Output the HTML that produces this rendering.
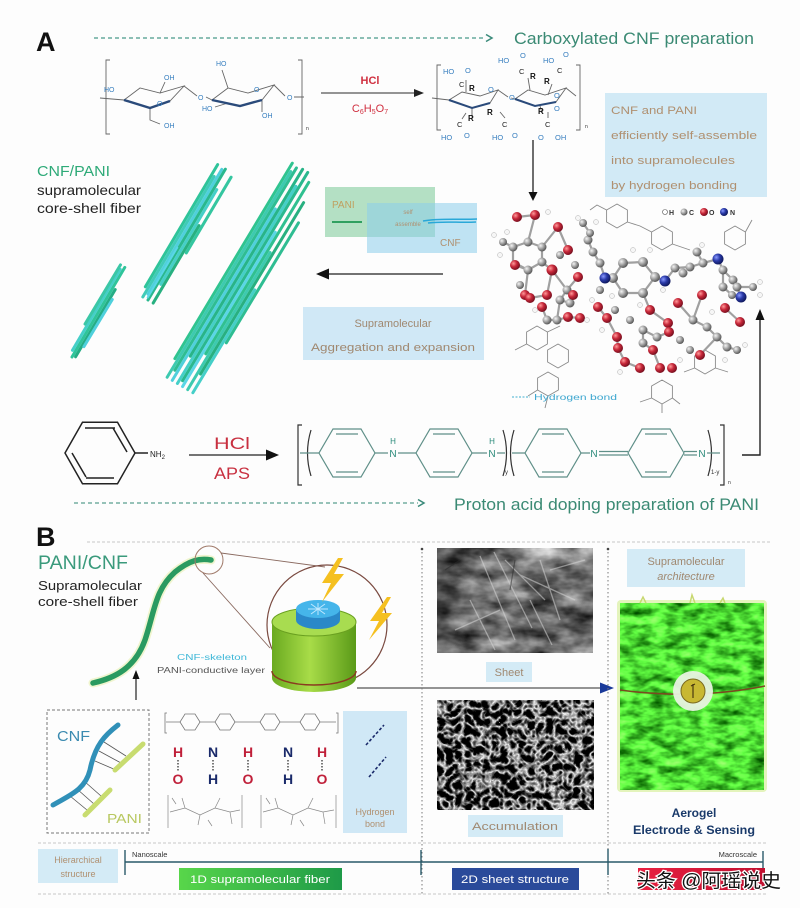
<!DOCTYPE html>
<html><head><meta charset="utf-8"><style>
html,body{margin:0;padding:0;background:#fff;}
svg{display:block;}
text{font-family:"Liberation Sans",Arial,sans-serif;}
</style></head><body>
<svg width="800" height="908" viewBox="0 0 800 908" xmlns="http://www.w3.org/2000/svg">
<defs>
<radialGradient id="gG" cx="35%" cy="35%" r="65%"><stop offset="0" stop-color="#f4f4f4"/><stop offset="0.5" stop-color="#a8a8a8"/><stop offset="1" stop-color="#5a5a5a"/></radialGradient>
<radialGradient id="gR" cx="35%" cy="35%" r="65%"><stop offset="0" stop-color="#ff9a9a"/><stop offset="0.5" stop-color="#c8283a"/><stop offset="1" stop-color="#7a1020"/></radialGradient>
<radialGradient id="gB" cx="35%" cy="35%" r="65%"><stop offset="0" stop-color="#8a9aff"/><stop offset="0.5" stop-color="#2a3aa8"/><stop offset="1" stop-color="#101a60"/></radialGradient>
<linearGradient id="cyl" x1="0" y1="0" x2="1" y2="0"><stop offset="0" stop-color="#6aaa20"/><stop offset="0.45" stop-color="#a8dc48"/><stop offset="1" stop-color="#5a9a18"/></linearGradient>
<linearGradient id="g1d" x1="0" y1="0" x2="1" y2="0"><stop offset="0" stop-color="#58d64a"/><stop offset="1" stop-color="#1e9a48"/></linearGradient>
<linearGradient id="gred" x1="0" y1="0" x2="1" y2="0"><stop offset="0" stop-color="#e82040"/><stop offset="1" stop-color="#c01030"/></linearGradient>
<linearGradient id="semShade" x1="0" y1="0" x2="1" y2="0"><stop offset="0" stop-color="#000" stop-opacity="0.35"/><stop offset="0.35" stop-color="#000" stop-opacity="0"/><stop offset="1" stop-color="#000" stop-opacity="0.1"/></linearGradient>
<filter id="semA" x="0" y="0" width="1" height="1" color-interpolation-filters="sRGB">
<feTurbulence type="fractalNoise" baseFrequency="0.025 0.05" numOctaves="4" seed="3"/>
<feColorMatrix type="matrix" values="1.3 0 0 0 -0.17  1.3 0 0 0 -0.17  1.3 0 0 0 -0.17  0 0 0 0 1"/>
</filter>
<filter id="semB" x="0" y="0" width="1" height="1" color-interpolation-filters="sRGB">
<feTurbulence type="turbulence" baseFrequency="0.11" numOctaves="2" seed="7"/>
<feColorMatrix type="matrix" values="-2.8 0 0 0 1.0  -2.8 0 0 0 1.0  -2.8 0 0 0 1.0  0 0 0 0 1"/>
</filter>
<filter id="gel" x="0" y="0" width="1" height="1" color-interpolation-filters="sRGB">
<feTurbulence type="fractalNoise" baseFrequency="0.06 0.12" numOctaves="3" seed="11"/>
<feColorMatrix type="matrix" values="0.8 0 0 0 -0.1  1.4 0 0 0 0.15  0.6 0 0 0 -0.1  0 0 0 0 1"/>
</filter>
</defs>

<rect x="0" y="0" width="800" height="908" fill="#fdfdfd"/>

<!-- ===== PANEL A ===== -->
<text x="36" y="51" font-size="27" font-weight="bold" fill="#111">A</text>
<line x1="94" y1="38" x2="486" y2="38" stroke="#4a9a8a" stroke-width="1.3" stroke-dasharray="4,3"/>
<path d="M486,34.5 L492,38 L486,41.5" fill="none" stroke="#3a8a7a" stroke-width="1.5"/>
<text x="514" y="44" font-size="17" fill="#3b8a74" textLength="240" lengthAdjust="spacingAndGlyphs">Carboxylated CNF preparation</text>

<!-- cellulose -->
<g stroke="#666" stroke-width="0.9" fill="none">
<path d="M110,60 L106,60 L106,134 L110,134"/>
<path d="M298,60 L302,60 L302,134 L298,134"/>
<polygon points="124,100 140,88 160,93 184,86 170,101 150,108"/>
<polygon points="212,100 228,88 248,93 274,85 262,100 240,106"/>
<path d="M100,98 L124,100 M160,93 L165,82 M150,108 L150,120 L160,124 M184,86 L197,96 M206,97 L212,100 M228,88 L222,70 M215,107 L228,103 M262,100 L262,112 M274,85 L285,96 M294,97 L304,97"/>
</g>
<path d="M124,100 L150,108 L170,101" stroke="#2a4a7a" stroke-width="2.4" fill="none"/>
<path d="M212,100 L240,106 L262,100" stroke="#2a4a7a" stroke-width="2.4" fill="none"/>
<g font-size="7" fill="#3a80c0">
<text x="104" y="92">HO</text><text x="164" y="80">OH</text><text x="164" y="128">OH</text>
<text x="198" y="100">O</text><text x="216" y="66">HO</text><text x="202" y="111">HO</text>
<text x="262" y="118">OH</text><text x="254" y="92">O</text><text x="287" y="100">O</text><text x="157" y="106">O</text>
</g>
<text x="306" y="130" font-size="5" fill="#333">n</text>

<line x1="321" y1="93" x2="415" y2="93" stroke="#555" stroke-width="1.3"/>
<polygon points="414,89 424,93 414,97" fill="#222"/>
<text x="370" y="84" font-size="11" fill="#d03040" text-anchor="middle" font-weight="bold">HCl</text>
<text x="370" y="112" font-size="11" fill="#d03040" text-anchor="middle">C<tspan font-size="7" dy="2">6</tspan><tspan dy="-2">H</tspan><tspan font-size="7" dy="2">5</tspan><tspan dy="-2">O</tspan><tspan font-size="7" dy="2">7</tspan></text>

<!-- carboxylated -->
<g stroke="#666" stroke-width="0.9" fill="none">
<path d="M441,65 L437,65 L437,130 L441,130"/>
<path d="M576,65 L580,65 L580,130 L576,130"/>
<polygon points="449,100 462,92 480,96 498,90 490,103 472,108"/>
<polygon points="515,99 528,90 545,95 566,88 556,102 535,106"/>
<path d="M432,98 L449,100 M498,90 L508,97 M511,98 L515,99 M566,88 L576,96 M466,92 L466,80 M530,90 L528,78 M548,95 L552,84 M472,108 L472,118 M540,106 L542,113 M462,119 L466,113 M505,118 L500,112 M548,118 L548,112"/>
</g>
<path d="M449,100 L472,108 L490,103 M515,99 L535,106 L556,102" stroke="#2a4a7a" stroke-width="2" fill="none"/>
<g font-size="7.5" fill="#3a80c0">
<text x="443" y="74">HO</text><text x="465" y="73">O</text><text x="488" y="92">O</text>
<text x="498" y="63">HO</text><text x="520" y="58">O</text>
<text x="543" y="63">HO</text><text x="563" y="57">O</text>
<text x="509" y="100">O</text><text x="554" y="98">O</text><text x="554" y="111">O</text>
<text x="441" y="140">HO</text><text x="464" y="138">O</text>
<text x="492" y="140">HO</text><text x="512" y="138">O</text>
<text x="538" y="140">O</text><text x="555" y="140">OH</text>
</g>
<g font-size="7.5" fill="#222">
<text x="459" y="87">C</text><text x="519" y="74">C</text><text x="557" y="73">C</text>
<text x="457" y="127">C</text><text x="502" y="127">C</text><text x="545" y="127">C</text>
</g>
<g font-size="8" fill="#111" font-weight="bold">
<text x="469" y="91">R</text><text x="530" y="79">R</text><text x="544" y="84">R</text>
<text x="487" y="115">R</text><text x="538" y="114">R</text><text x="468" y="121">R</text>
</g>
<text x="585" y="128" font-size="5" fill="#333">n</text>

<!-- info box -->
<rect x="605" y="93" width="162" height="104" fill="#d2eaf6"/>
<g font-size="11" fill="#b09070">
<text x="611" y="114" textLength="86" lengthAdjust="spacingAndGlyphs">CNF and PANI</text>
<text x="611" y="139" textLength="146" lengthAdjust="spacingAndGlyphs">efficiently self-assemble</text>
<text x="611" y="164" textLength="124" lengthAdjust="spacingAndGlyphs">into supramolecules</text>
<text x="611" y="189" textLength="126" lengthAdjust="spacingAndGlyphs">by hydrogen bonding</text>
</g>

<line x1="533" y1="140" x2="533" y2="193" stroke="#222" stroke-width="1.3"/>
<polygon points="528.5,192 533,201 537.5,192" fill="#111"/>

<!-- left labels -->
<text x="37" y="176" font-size="15" fill="#2eaa78" textLength="73" lengthAdjust="spacingAndGlyphs">CNF/PANI</text>
<text x="37" y="195" font-size="14" fill="#222" textLength="104" lengthAdjust="spacingAndGlyphs">supramolecular</text>
<text x="37" y="213" font-size="14" fill="#222" textLength="104" lengthAdjust="spacingAndGlyphs">core-shell fiber</text>

<!-- fiber bundles -->
<g stroke-linecap="round" stroke-width="3">
<g transform="translate(72,357) rotate(-59.5)">
<line x1="0" y1="0" x2="104" y2="0" stroke="#2fc49a"/>
<line x1="6" y1="-3" x2="100" y2="-3" stroke="#45cfc8"/>
<line x1="2" y1="3" x2="80" y2="3" stroke="#25ad85"/>
<line x1="35" y1="-5.5" x2="104" y2="-5" stroke="#3bc7a6"/>
<line x1="15" y1="5" x2="70" y2="5.5" stroke="#4fd0dc"/>
</g>
<g transform="translate(148,300) rotate(-59.4)">
<line x1="10" y1="-9" x2="152" y2="-9" stroke="#2fc49a"/>
<line x1="0" y1="-6" x2="140" y2="-6" stroke="#40cbb8"/>
<line x1="5" y1="-3" x2="150" y2="-3" stroke="#4fd0dc"/>
<line x1="0" y1="0" x2="152" y2="0" stroke="#2ab88e"/>
<line x1="20" y1="3" x2="130" y2="3" stroke="#45cfc8"/>
<line x1="0" y1="6" x2="90" y2="6" stroke="#28b080"/>
<line x1="60" y1="9" x2="148" y2="9" stroke="#35c6a0"/>
<line x1="2" y1="-1.5" x2="60" y2="-1.5" stroke="#5ad6e6" stroke-width="2"/>
</g>
<g transform="translate(180,385) rotate(-59)">
<line x1="20" y1="-18" x2="248" y2="-18" stroke="#30c490"/>
<line x1="0" y1="-15" x2="240" y2="-15" stroke="#3dcab0"/>
<line x1="10" y1="-12" x2="246" y2="-12" stroke="#2fbd92"/>
<line x1="0" y1="-9" x2="200" y2="-9" stroke="#4fd0dc"/>
<line x1="30" y1="-6" x2="248" y2="-6" stroke="#28b488"/>
<line x1="0" y1="-3" x2="230" y2="-3" stroke="#45cfc8"/>
<line x1="5" y1="0" x2="248" y2="0" stroke="#2ab88e"/>
<line x1="0" y1="3" x2="180" y2="3" stroke="#5ad6e6"/>
<line x1="40" y1="6" x2="240" y2="6" stroke="#30c090"/>
<line x1="0" y1="9" x2="160" y2="9" stroke="#3dcab0"/>
<line x1="20" y1="12" x2="220" y2="12" stroke="#28b080"/>
<line x1="0" y1="15" x2="120" y2="15" stroke="#45cfc8"/>
<line x1="60" y1="18" x2="200" y2="18" stroke="#2fbd92"/>
</g>
</g>

<!-- self assemble boxes -->
<rect x="325" y="187" width="110" height="50" fill="rgb(120,200,150)" fill-opacity="0.55"/>
<rect x="367" y="203" width="110" height="50" fill="rgb(140,205,235)" fill-opacity="0.55"/>
<text x="332" y="208" font-size="10" fill="#c0a060">PANI</text>
<line x1="332" y1="222" x2="362" y2="222" stroke="#30a060" stroke-width="2"/>
<text x="408" y="214" font-size="6" fill="#b09070" text-anchor="middle">self</text>
<text x="408" y="226" font-size="6" fill="#b09070" text-anchor="middle">assemble</text>
<text x="440" y="246" font-size="10" fill="#b09070">CNF</text>
<path d="M423,221 C440,218 460,220 477,219 M428,223 C445,221 460,223 476,222" stroke="#2aa8d8" stroke-width="1.5" fill="none"/>

<line x1="326" y1="274" x2="443" y2="274" stroke="#444" stroke-width="1.4"/>
<polygon points="316,274 329,268.5 329,279.5" fill="#111"/>

<rect x="303" y="307" width="181" height="53" fill="#d0e8f6"/>
<text x="393" y="327" font-size="11" fill="#a08870" text-anchor="middle">Supramolecular</text>
<text x="393" y="351" font-size="11" fill="#a08870" text-anchor="middle" textLength="164" lengthAdjust="spacingAndGlyphs">Aggregation and expansion</text>

<!-- molecule wireframe -->
<g stroke="#8a8a8a" stroke-width="0.9" fill="none">
<polygon points="617,204 627.4,210 627.4,222 617,228 606.6,222 606.6,210"/>
<polygon points="662,226 672.4,232 672.4,244 662,250 651.6,244 651.6,232"/>
<polygon points="735,226 745.4,232 745.4,244 735,250 724.6,244 724.6,232"/>
<polygon points="537,326 547.4,332 547.4,344 537,350 526.6,344 526.6,332"/>
<polygon points="558,344 568.4,350 568.4,362 558,368 547.6,362 547.6,350"/>
<polygon points="548,372 558.4,378 558.4,390 548,396 537.6,390 537.6,378"/>
<polygon points="662,380 672.4,386 672.4,398 662,404 651.6,398 651.6,386"/>
<polygon points="705,350 715.4,356 715.4,368 705,374 694.6,368 694.6,356"/>
<path d="M606.6,210 L597,205 L590,210 M627.4,222 L640,226 L651.6,232 M672.4,244 L690,250 M745.4,232 L752,220 M548,396 L545,408 M537.6,390 L528,396 M662,404 L662,413 M651.6,398 L640,402 M672.4,398 L680,404 M526.6,344 L515,350 M715.4,368 L728,372 M547.4,332 L560,326 M694.6,368 L684,372"/>
</g>
<path d="M503,242 L513,247 L528,242 L542,247 L542,262 L528,270 L513,262 L513,247 M528,242 L535,215 M517,217 L535,215 M542,247 L558,227 M558,227 L568,250 M528,270 L515,265 M528,270 L525,295 M542,262 L552,270 L567,290 L578,277 M583,223 L590,233 L588,240 L593,252 L600,263 L605,278 L613,278 L623,263 L643,262 L655,277 L643,293 L623,293 L613,278 M655,277 L665,281 L675,268 L690,267 L703,263 L697,252 M703,263 L718,259 L723,270 L733,280 L737,287 L753,287 M737,287 L741,297 L732,295 L723,287 L723,270 M643,293 L650,310 L668,323 L669,332 L657,337 L643,330 L643,343 L653,350 L660,368 M678,303 L693,320 L707,327 L717,337 L727,347 L737,350 M702,295 L693,320 M725,308 L740,322 M717,337 L700,355 M567,290 L560,300 L570,303 L573,295 M560,300 L557,320 L547,320 L542,307 M557,320 L568,317 L580,318 M598,307 L607,318 L617,337 L618,348 L625,362 L640,368 M530,298 L547,295 L552,270" stroke="#a0a0a0" stroke-width="2.2" fill="none"/>
<g fill="url(#gG)">
<circle cx="528" cy="242" r="4.5"/><circle cx="542" cy="247" r="4.5"/><circle cx="513" cy="247" r="4.5"/><circle cx="503" cy="242" r="4"/><circle cx="542" cy="262" r="4.5"/><circle cx="528" cy="270" r="4.5"/><circle cx="588" cy="240" r="4.5"/><circle cx="593" cy="252" r="4.5"/><circle cx="600" cy="263" r="4.5"/><circle cx="583" cy="223" r="4"/><circle cx="590" cy="233" r="4"/><circle cx="623" cy="263" r="5"/><circle cx="643" cy="262" r="5"/><circle cx="655" cy="277" r="5"/><circle cx="643" cy="293" r="5"/><circle cx="623" cy="293" r="5"/><circle cx="613" cy="278" r="5"/><circle cx="675" cy="268" r="4.5"/><circle cx="690" cy="267" r="4.5"/><circle cx="703" cy="263" r="4.5"/><circle cx="697" cy="252" r="4.5"/><circle cx="683" cy="273" r="4.5"/><circle cx="723" cy="270" r="4.5"/><circle cx="733" cy="280" r="4.5"/><circle cx="737" cy="287" r="4.5"/><circle cx="753" cy="287" r="4"/><circle cx="723" cy="287" r="4.5"/><circle cx="732" cy="295" r="4"/><circle cx="693" cy="320" r="4.5"/><circle cx="707" cy="327" r="4.5"/><circle cx="717" cy="337" r="4.5"/><circle cx="727" cy="347" r="4.5"/><circle cx="737" cy="350" r="4"/><circle cx="643" cy="330" r="4.5"/><circle cx="643" cy="343" r="4.5"/><circle cx="657" cy="337" r="4.5"/><circle cx="567" cy="290" r="4.5"/><circle cx="560" cy="300" r="4.5"/><circle cx="570" cy="303" r="4.5"/><circle cx="557" cy="320" r="4.5"/><circle cx="547" cy="320" r="4.5"/><circle cx="520" cy="285" r="4"/><circle cx="560" cy="255" r="4"/><circle cx="575" cy="265" r="4"/><circle cx="600" cy="290" r="4"/><circle cx="615" cy="310" r="4"/><circle cx="630" cy="320" r="4"/><circle cx="680" cy="340" r="4"/><circle cx="690" cy="350" r="4"/>
</g>
<g fill="url(#gR)">
<circle cx="517" cy="217" r="5"/><circle cx="535" cy="215" r="5"/><circle cx="558" cy="227" r="5"/><circle cx="568" cy="250" r="5"/><circle cx="515" cy="265" r="5"/><circle cx="552" cy="270" r="5.5"/><circle cx="578" cy="277" r="5"/><circle cx="525" cy="295" r="5"/><circle cx="530" cy="298" r="5"/><circle cx="547" cy="295" r="5"/><circle cx="542" cy="307" r="5"/><circle cx="568" cy="317" r="5"/><circle cx="598" cy="307" r="5"/><circle cx="607" cy="318" r="5"/><circle cx="617" cy="337" r="5"/><circle cx="618" cy="348" r="5"/><circle cx="625" cy="362" r="5"/><circle cx="640" cy="368" r="5"/><circle cx="650" cy="310" r="5"/><circle cx="668" cy="323" r="5"/><circle cx="669" cy="332" r="5"/><circle cx="678" cy="303" r="5"/><circle cx="702" cy="295" r="5"/><circle cx="653" cy="350" r="5"/><circle cx="660" cy="368" r="5"/><circle cx="672" cy="368" r="5"/><circle cx="700" cy="355" r="5"/><circle cx="725" cy="308" r="5"/><circle cx="740" cy="322" r="5"/><circle cx="573" cy="295" r="5"/><circle cx="580" cy="318" r="5"/>
</g>
<g fill="url(#gB)">
<circle cx="605" cy="278" r="5.5"/><circle cx="665" cy="281" r="5.5"/><circle cx="718" cy="259" r="5.5"/><circle cx="741" cy="297" r="5.5"/>
</g>
<g fill="#f6f6f6" stroke="#b0b0b0" stroke-width="0.5">
<circle cx="494" cy="235" r="2.5"/><circle cx="507" cy="232" r="2.5"/><circle cx="578" cy="218" r="2.5"/><circle cx="596" cy="222" r="2.5"/><circle cx="633" cy="250" r="2.5"/><circle cx="650" cy="250" r="2.5"/><circle cx="663" cy="290" r="2.5"/><circle cx="640" cy="305" r="2.5"/><circle cx="702" cy="245" r="2.5"/><circle cx="760" cy="282" r="2.5"/><circle cx="760" cy="295" r="2.5"/><circle cx="712" cy="312" r="2.5"/><circle cx="745" cy="345" r="2.5"/><circle cx="500" cy="255" r="2.5"/><circle cx="535" cy="310" r="2.5"/><circle cx="592" cy="300" r="2.5"/><circle cx="612" cy="296" r="2.5"/><circle cx="680" cy="360" r="2.5"/><circle cx="620" cy="372" r="2.5"/><circle cx="587" cy="320" r="2.5"/><circle cx="548" cy="212" r="2.5"/><circle cx="602" cy="330" r="2.5"/><circle cx="725" cy="360" r="2.5"/>
</g>
<!-- legend -->
<g font-size="7" font-weight="bold" fill="#333">
<circle cx="665" cy="212" r="2.5" fill="#fff" stroke="#555" stroke-width="0.6"/><text x="669" y="215">H</text>
<circle cx="684" cy="212" r="3.5" fill="url(#gG)"/><text x="689" y="215">C</text>
<circle cx="704" cy="212" r="4" fill="url(#gR)"/><text x="709" y="215">O</text>
<circle cx="724" cy="212" r="4" fill="url(#gB)"/><text x="730" y="215">N</text>
</g>
<line x1="512" y1="397" x2="530" y2="397" stroke="#40b0d0" stroke-width="1" stroke-dasharray="2,1.5"/>
<text x="534" y="400" font-size="8" fill="#40a8d0" textLength="83" lengthAdjust="spacingAndGlyphs">Hydrogen bond</text>

<!-- right connector -->
<path d="M742,455 L760,455 L760,318" stroke="#222" stroke-width="1.4" fill="none"/>
<polygon points="755.5,320 760,309 764.5,320" fill="#111"/>

<!-- aniline -->
<g stroke="#222" stroke-width="1.5" fill="none">
<polygon points="135,453 117.5,422.3 82.5,422.3 65,453 82.5,483.7 117.5,483.7"/>
<path d="M113,428 L127,452 M85,428 L115,428 M72,453 L86,477 M86,478 L114,478"/>
<line x1="135" y1="453" x2="148" y2="453"/>
</g>
<text x="150" y="457" font-size="8" fill="#222">NH<tspan font-size="6" dy="2">2</tspan></text>
<line x1="189" y1="455" x2="268" y2="455" stroke="#222" stroke-width="1.3"/>
<polygon points="266,449.5 279,455 266,460.5" fill="#111"/>
<text x="214" y="449" font-size="17" fill="#c83040" textLength="36" lengthAdjust="spacingAndGlyphs">HCl</text>
<text x="214" y="479" font-size="17" fill="#c83040" textLength="36" lengthAdjust="spacingAndGlyphs">APS</text>

<!-- PANI structure -->
<g stroke="#333" stroke-width="1.2" fill="none">
<path d="M302,425 L298,425 L298,485 L302,485"/>
<path d="M720,425 L724,425 L724,485 L720,485"/>
<path d="M311,430 Q304,453 311,476 M503,430 Q510,453 503,476 M514,430 Q507,453 514,476 M708,430 Q715,453 708,476"/>
</g>
<g stroke="#5f8f88" stroke-width="1.2" fill="none">
<polygon points="375,453 361,429 333,429 319,453 333,477 361,477"/>
<polygon points="472,453 458,429 430,429 416,453 430,477 458,477"/>
<polygon points="581,453 567,429 539,429 525,453 539,477 567,477"/>
<polygon points="684,453 670,429 642,429 628,453 642,477 670,477"/>
<path d="M336,434 L358,434 M336,472 L358,472 M433,434 L455,434 M433,472 L455,472 M542,434 L564,434 M542,472 L564,472 M645,434 L667,434 M645,472 L667,472"/>
<path d="M300,453 L319,453 M375,453 L388,453 M398,453 L416,453 M472,453 L487,453 M497,453 L505,453 M512,453 L525,453 M581,453 L590,453 M599,451.5 L628,451.5 M599,455 L628,455 M684,451.5 L697,451.5 M684,455 L697,455 M707,453 L720,453"/>
</g>
<g font-size="10" fill="#2a8a7a" text-anchor="middle">
<text x="393" y="444" font-size="8">H</text><text x="393" y="457">N</text>
<text x="492" y="444" font-size="8">H</text><text x="492" y="457">N</text>
<text x="594" y="457">N</text><text x="702" y="457">N</text>
</g>
<text x="505" y="474" font-size="6" fill="#333">y</text>
<text x="711" y="474" font-size="6" fill="#333">1-y</text>
<text x="728" y="484" font-size="5" fill="#333">n</text>

<line x1="74" y1="503" x2="418" y2="503" stroke="#5aa090" stroke-width="1.3" stroke-dasharray="4,3"/>
<path d="M418,499.5 L424,503 L418,506.5" fill="none" stroke="#3a8a7a" stroke-width="1.5"/>
<text x="454" y="510" font-size="17" fill="#3b8a74" textLength="305" lengthAdjust="spacingAndGlyphs">Proton acid doping preparation of PANI</text>

<!-- ===== PANEL B ===== -->
<text x="36" y="546" font-size="27" font-weight="bold" fill="#111">B</text>
<line x1="87" y1="542" x2="770" y2="542" stroke="#c8c8c8" stroke-width="1" stroke-dasharray="3,2"/>
<text x="38" y="569" font-size="19" fill="#3a9a7c" textLength="90" lengthAdjust="spacingAndGlyphs">PANI/CNF</text>
<text x="38" y="590" font-size="13" fill="#222" textLength="104" lengthAdjust="spacingAndGlyphs">Supramolecular</text>
<text x="38" y="606" font-size="13" fill="#222" textLength="100" lengthAdjust="spacingAndGlyphs">core-shell fiber</text>

<path d="M93,683 C115,678 135,668 145,640 C155,610 155,590 175,572 C190,560 200,558 211,560" stroke="#e8f0b0" stroke-width="9" fill="none" stroke-linecap="round" opacity="0.6"/>
<path d="M93,683 C115,678 135,668 145,640 C155,610 155,590 175,572 C190,560 200,558 211,560" stroke="#2a9a60" stroke-width="5.5" fill="none" stroke-linecap="round"/>
<circle cx="209" cy="560" r="14" stroke="#a07a6a" stroke-width="1" fill="none"/>
<path d="M221,553 L325,567 M203,573 L270,648" stroke="#8a6a60" stroke-width="0.9" fill="none"/>
<circle cx="327" cy="625" r="60" stroke="#7a4a40" stroke-width="1.2" fill="none"/>

<!-- cylinder -->
<path d="M272,622 L272,678 A42,14 0 0 0 356,678 L356,622 Z" fill="url(#cyl)"/>
<ellipse cx="314" cy="622" rx="42" ry="14" fill="#a8dc50" stroke="#6aa020" stroke-width="1"/>
<path d="M272,671 A42,14 0 0 0 356,671" stroke="#8a3a20" stroke-width="1.5" fill="none"/>
<path d="M296,620 L296,610 A22,9 0 0 1 340,610 L340,620 A22,9 0 0 1 296,620 Z" fill="#2a88c8"/>
<ellipse cx="318" cy="609" rx="22" ry="9" fill="#45b5ea"/>
<path d="M308,609 L328,609 M318,603 L318,615 M311,604 L325,614 M325,604 L311,614" stroke="#bfe8ff" stroke-width="1"/>
<polygon points="338,558 322,583 331,583 322,602 344,574 334,574 343,558" fill="#f5c020"/>
<polygon points="387,597 370,621 379,621 369,640 392,613 382,613 391,597" fill="#f5c020"/>

<text x="177" y="660" font-size="8" fill="#40b8d8" textLength="70" lengthAdjust="spacingAndGlyphs">CNF-skeleton</text>
<text x="157" y="673" font-size="8" fill="#555" textLength="108" lengthAdjust="spacingAndGlyphs">PANI-conductive layer</text>

<line x1="136" y1="700" x2="136" y2="677" stroke="#222" stroke-width="1.2"/>
<polygon points="132.5,679 136,670 139.5,679" fill="#111"/>

<line x1="357" y1="688" x2="601" y2="688" stroke="#555" stroke-width="1.2"/>
<polygon points="600,682.5 614,688 600,693.5" fill="#1a3a9a"/>

<!-- dashed box -->
<rect x="47" y="710" width="102" height="123" fill="none" stroke="#777" stroke-width="1" stroke-dasharray="3,2"/>
<text x="57" y="741" font-size="15" fill="#3a8ab0" textLength="33" lengthAdjust="spacingAndGlyphs">CNF</text>
<g stroke="#555" stroke-width="0.8">
<line x1="104" y1="742" x2="126" y2="756"/><line x1="99" y1="751" x2="121" y2="763"/><line x1="95" y1="761" x2="116" y2="770"/>
<line x1="84" y1="781" x2="101" y2="796"/><line x1="77" y1="789" x2="94" y2="804"/><line x1="70" y1="796" x2="87" y2="810"/>
</g>
<path d="M53,805 C70,795 85,790 90,770 C95,745 105,735 118,725" stroke="#3090b8" stroke-width="5" fill="none" stroke-linecap="round"/>
<line x1="115" y1="770" x2="143" y2="744" stroke="#c8dc70" stroke-width="5" stroke-linecap="round"/>
<line x1="85" y1="815" x2="110" y2="790" stroke="#c8dc70" stroke-width="5" stroke-linecap="round"/>
<text x="107" y="823" font-size="13" fill="#b8c860" textLength="35" lengthAdjust="spacingAndGlyphs">PANI</text>

<!-- small PANI wire -->
<g stroke="#777" stroke-width="0.8" fill="none">
<path d="M167,713 L165,713 L165,733 L167,733 M336,713 L338,713 L338,733 L336,733"/>
<polygon points="200,722 195,714 185,714 180,722 185,730 195,730"/>
<polygon points="235,722 230,714 220,714 215,722 220,730 230,730"/>
<polygon points="280,722 275,714 265,714 260,722 265,730 275,730"/>
<polygon points="320,722 315,714 305,714 300,722 305,730 315,730"/>
<path d="M166,722 L180,722 M200,722 L215,722 M235,722 L260,722 M280,722 L300,722 M320,722 L336,722"/>
</g>
<g font-size="14" font-weight="bold" text-anchor="middle">
<text x="178" y="757" fill="#c0203a">H</text><text x="178" y="784" fill="#c0203a">O</text>
<text x="213" y="757" fill="#1a2a6a">N</text><text x="213" y="784" fill="#1a2a6a">H</text>
<text x="248" y="757" fill="#c0203a">H</text><text x="248" y="784" fill="#c0203a">O</text>
<text x="288" y="757" fill="#1a2a6a">N</text><text x="288" y="784" fill="#1a2a6a">H</text>
<text x="322" y="757" fill="#c0203a">H</text><text x="322" y="784" fill="#c0203a">O</text>
</g>
<g stroke="#333" stroke-width="1.3" stroke-dasharray="1.5,1.5">
<line x1="178" y1="760" x2="178" y2="772"/><line x1="213" y1="760" x2="213" y2="772"/><line x1="248" y1="760" x2="248" y2="772"/><line x1="288" y1="760" x2="288" y2="772"/><line x1="322" y1="760" x2="322" y2="772"/>
</g>
<g stroke="#888" stroke-width="0.7" fill="none">
<path d="M168,795 L168,828 M242,795 L242,828 M261,795 L261,828 M336,795 L336,828"/>
<path d="M170,812 L185,808 L200,815 L215,808 L230,812 L240,810 M185,808 L182,798 M200,815 L198,825 M215,808 L220,798 M230,812 L232,824 M176,804 L172,798 M208,820 L212,826"/>
<path d="M263,812 L278,808 L293,815 L308,808 L323,812 L334,810 M278,808 L275,798 M293,815 L291,825 M308,808 L313,798 M323,812 L325,824 M270,804 L266,798 M300,820 L304,826"/>
</g>

<!-- H bond box -->
<rect x="343" y="711" width="64" height="122" fill="#d0e8f6"/>
<g stroke="#1a2a6a" stroke-width="1.6" stroke-dasharray="3,2">
<line x1="366" y1="745" x2="384" y2="725"/><line x1="369" y1="777" x2="386" y2="757"/>
</g>
<text x="375" y="815" font-size="9" fill="#b09070" text-anchor="middle">Hydrogen</text>
<text x="375" y="827" font-size="9" fill="#b09070" text-anchor="middle">bond</text>

<!-- dotted separators -->
<line x1="422" y1="548" x2="422" y2="896" stroke="#777" stroke-width="1" stroke-dasharray="1.5,2.5"/>
<line x1="608" y1="548" x2="608" y2="896" stroke="#777" stroke-width="1" stroke-dasharray="1.5,2.5"/>
<circle cx="422" cy="549" r="1.3" fill="#444"/><circle cx="608" cy="549" r="1.3" fill="#444"/>

<!-- SEM images -->
<rect x="437" y="548" width="156" height="105" filter="url(#semA)"/>
<rect x="437" y="548" width="156" height="105" fill="url(#semShade)"/>
<g stroke="#d4d4d4" stroke-width="1.3" opacity="0.55" fill="none">
<path d="M480,556 L515,640 M494,552 L532,628 M470,600 L495,650 M540,560 L560,620 M505,560 L545,600 M520,575 L575,600 M455,630 L500,610 M550,570 L585,560 M530,600 L552,645"/>
</g>
<path d="M515,560 L510,590 M445,570 L460,560" stroke="#2a2a2a" stroke-width="1.2" opacity="0.5"/>
<rect x="486" y="662" width="46" height="20" fill="#d4ebf6"/>
<text x="509" y="676" font-size="11" fill="#a08870" text-anchor="middle">Sheet</text>
<rect x="437" y="700" width="157" height="110" filter="url(#semB)"/>
<rect x="468" y="815" width="95" height="22" fill="#d4ebf6"/>
<text x="515" y="830" font-size="11" fill="#a08870" text-anchor="middle" textLength="86" lengthAdjust="spacingAndGlyphs">Accumulation</text>

<!-- aerogel -->
<rect x="627" y="549" width="118" height="38" fill="#d4ebf6"/>
<text x="686" y="565" font-size="11" fill="#a08870" text-anchor="middle">Supramolecular</text>
<text x="686" y="580" font-size="11" fill="#a08870" text-anchor="middle" font-style="italic">architecture</text>
<rect x="617" y="600" width="150" height="192" rx="4" fill="#d8f0a0" opacity="0.7"/>
<rect x="620" y="603" width="144" height="187" filter="url(#gel)"/>
<path d="M640,603 l3,-6 l3,6 M690,603 l2,-8 l3,8 M720,603 l3,-5 l2,5" stroke="#c8d870" stroke-width="1.5" fill="none"/>
<path d="M620,690 Q694,700 765,686" stroke="#7a4a20" stroke-width="1.6" fill="none"/>
<circle cx="693" cy="691" r="20" fill="#e8f2e0" opacity="0.95"/>
<circle cx="693" cy="691" r="12" fill="#c8b832" stroke="#7a6a20" stroke-width="1"/>
<path d="M693,684 L693,698 M691,686 L695,684" stroke="#4a3a10" stroke-width="1.2" fill="none"/>
<text x="694" y="817" font-size="12" fill="#1a3a6a" text-anchor="middle" font-family="Liberation Serif, serif" font-weight="bold">Aerogel</text>
<text x="694" y="834" font-size="12" fill="#1a3a6a" text-anchor="middle" font-family="Liberation Serif, serif" font-weight="bold" textLength="122" lengthAdjust="spacingAndGlyphs">Electrode &amp; Sensing</text>

<!-- bottom bar -->
<line x1="38" y1="843" x2="768" y2="843" stroke="#c8c8c8" stroke-width="1" stroke-dasharray="3,2"/>
<rect x="38" y="849" width="80" height="34" fill="#d4ebf6"/>
<text x="78" y="863" font-size="9" fill="#b09070" text-anchor="middle">Hierarchical</text>
<text x="78" y="877" font-size="9" fill="#b09070" text-anchor="middle">structure</text>
<line x1="125" y1="862" x2="763" y2="862" stroke="#2a5a6a" stroke-width="1.5"/>
<g stroke="#2a5a6a" stroke-width="1.4">
<line x1="125" y1="850" x2="125" y2="875"/><line x1="421" y1="850" x2="421" y2="875"/><line x1="608" y1="849" x2="608" y2="875"/><line x1="763" y1="851" x2="763" y2="874"/>
</g>
<text x="132" y="857" font-size="7.5" fill="#333">Nanoscale</text>
<text x="757" y="857" font-size="7.5" fill="#333" text-anchor="end">Macroscale</text>
<rect x="179" y="868" width="163" height="22" fill="url(#g1d)"/>
<text x="260" y="883" font-size="11" fill="#fff" text-anchor="middle" textLength="140" lengthAdjust="spacingAndGlyphs">1D supramolecular fiber</text>
<rect x="452" y="868" width="127" height="22" fill="#2a4a9a"/>
<text x="515" y="883" font-size="11" fill="#fff" text-anchor="middle" textLength="108" lengthAdjust="spacingAndGlyphs">2D sheet structure</text>
<rect x="638" y="868" width="127" height="22" fill="url(#gred)"/>
<text x="636" y="887" font-size="19" fill="#111" stroke="#fff" stroke-width="2.5" paint-order="stroke" textLength="145" lengthAdjust="spacingAndGlyphs" style="font-family:'Liberation Sans','Noto Sans CJK SC',sans-serif;">头条 @阿瑶说史</text>
<line x1="38" y1="894" x2="768" y2="894" stroke="#c8c8c8" stroke-width="1" stroke-dasharray="3,2"/>
</svg>
</body></html>
